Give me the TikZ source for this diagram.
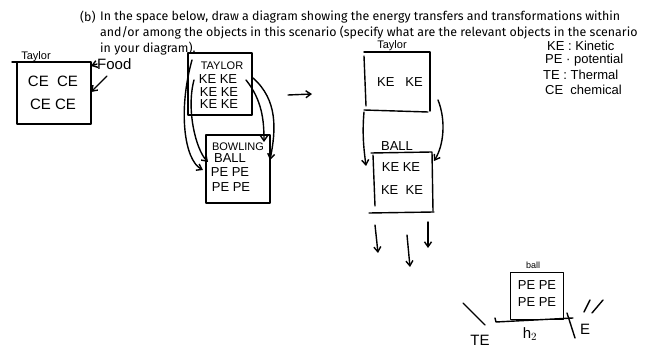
\documentclass[tikz,border=0pt]{standalone}
\usepackage{fontspec}
\setmainfont{Fira Sans}
\newfontfamily\hand{Liberation Sans}
\usetikzlibrary{arrows.meta}
\begin{document}
\begin{tikzpicture}[x=1pt,y=-1pt,
  ink/.style={line width=1.4pt,line cap=round,line join=round},
  arr/.style={ink,-{Straight Barb[length=5pt,width=7pt]}},
  hw/.style={font=\hand\fontsize{13}{13}\selectfont,inner sep=0pt},
  hws/.style={font=\hand\fontsize{11}{11}\selectfont,inner sep=0pt},
  hwl/.style={font=\hand\fontsize{15}{15}\selectfont,inner sep=0pt},
  lg/.style={font=\hand\fontsize{13}{13}\selectfont,inner sep=0pt,anchor=west},
  hdr/.style={font=\fontsize{12.4}{14}\selectfont,inner sep=0pt,anchor=west}]
\useasboundingbox (0,0) rectangle (672,352);
% header
\node[hdr] (b) at (80,17) {(b)};
\node[hdr] (l1) at (100,17) {In the space below, draw a diagram showing the energy transfers and transformations within};
\node[hdr] (l2) at (100,33) {and/or among the objects in this scenario (specify what are the relevant objects in the scenario};
\node[hdr] (l3) at (100,49) {in your diagram).};
% diagram 1
\node[hws] (t1) at (36,57) {Taylor};
\draw[ink] (12,62) -- (62,62);
\node[draw,ink,minimum width=74pt,minimum height=62pt,inner sep=0pt] (box1) at (54,93) {};
\node[hwl] (ce1) at (53,81) {CE\ \ CE};
\node[hwl] (ce2) at (53,104) {CE\ CE};
\node[hwl,anchor=west] (food) at (97,64) {Food};
\coordinate (f1) at (91,66);
\coordinate (f2) at (91,92);
\draw[arr] (food.west) -- (f1);
\draw[arr] (107,76) -- (f2);
% diagram 2
\node[draw,ink,minimum width=64pt,minimum height=62pt,inner sep=0pt] (tay2) at (220,84) {};
\node[hws] (tay2t) at (222,66) {TAYLOR};
\node[hw] (k1) at (218,79) {KE KE};
\node[hw] (k2) at (219,92) {KE KE};
\node[hw] (k3) at (219,104) {KE KE};
\node[draw,ink,minimum width=64pt,minimum height=68pt,inner sep=0pt] (bb) at (238,169) {};
\node[hws] (bb1) at (238,147) {BOWLING};
\node[hw] (bb2) at (230,158) {BALL};
\node[hw] (bb3) at (230,172) {PE PE};
\node[hw] (bb4) at (231,187) {PE PE};
\coordinate (a1s) at (192,60);
\coordinate (a2s) at (194,80);
\coordinate (a3s) at (246,80);
\coordinate (a4s) at (253,78);
\coordinate (a1e) at (203,170);
\coordinate (a2e) at (208,162);
\coordinate (a3e) at (264,142);
\coordinate (a4e) at (270,160);
\draw[arr] (a1s) .. controls (178,110) and (184,160) .. (a1e);
\draw[arr] (a2s) .. controls (186,110) and (196,150) .. (a2e);
\draw[arr] (a3s) .. controls (262,100) and (264,120) .. (a3e);
\draw[arr] (a4s) .. controls (278,100) and (276,130) .. (a4e);
\coordinate (rs) at (288,95);
\coordinate (re) at (312,94);
\draw[arr] (rs) -- (re);
% diagram 3
\node[hws] (t3) at (392,46) {Taylor};
\node[minimum width=66pt,minimum height=60pt,inner sep=0pt] (tay3) at (397,82) {};
\draw[ink] (364,52) -- (430,52) -- (430,111);
\draw[ink] (364,56) -- (366,106);
\draw[ink] (364,110) -- (428,112);
\node[hw] (k31) at (400,82) {KE\ \ \ KE};
\node[hw] (bl) at (397,146) {BALL};
\draw[ink] (371,153) -- (432,152) -- (433,211);
\draw[ink] (373,155) -- (375,206);
\draw[ink] (369,213) -- (434,212);
\node[minimum width=60pt,minimum height=58pt,inner sep=0pt] (ball3) at (403,182) {};
\node[hw] (k32) at (401,167) {KE KE};
\node[hw] (k33) at (402,190) {KE\ \ KE};
\coordinate (b1s) at (364,112);
\coordinate (b1e) at (366,166);
\coordinate (b2s) at (438,100);
\coordinate (b2e) at (434,161);
\draw[arr] (b1s) .. controls (362,135) and (364,150) .. (b1e);
\draw[arr] (b2s) .. controls (446,120) and (444,145) .. (b2e);
\coordinate (d1s) at (375,225);
\coordinate (d1e) at (378,253);
\coordinate (d2s) at (407,235);
\coordinate (d2e) at (410,267);
\coordinate (d3s) at (428,222);
\coordinate (d3e) at (428,248);
\draw[arr] (d1s) -- (d1e);
\draw[arr] (d2s) -- (d2e);
\draw[arr] (d3s) -- (d3e);
% legend
\node[lg] (lg1) at (547,46) {KE : Kinetic};
\node[lg] (lg2) at (545,60) {PE · potential};
\node[lg] (lg3) at (543,75) {TE : Thermal};
\node[lg] (lg4) at (545,90) {CE\ \ chemical};
% diagram 4
\node[hw,font=\hand\fontsize{9}{9}\selectfont] (bl4) at (533,265) {ball};
\node[draw,ink,minimum width=53pt,minimum height=47pt,inner sep=0pt] (box4) at (537,296) {};
\node[hw] (p1) at (537,285) {PE PE};
\node[hw] (p2) at (537,302) {PE PE};
\draw[ink] (495,318) -- (496,322) -- (573,318);
\draw[ink] (567,313) -- (575,338);
\draw[ink] (463,303) -- (485,325);
\draw[ink] (584,312) -- (590,300);
\draw[ink] (592,313) -- (603,300);
\node[hwl] (te1) at (480,340) {TE};
\node[hwl] (h2) at (530,334) {h$_2$};
\node[hwl] (e) at (585,329) {E};
\end{tikzpicture}
\end{document}
